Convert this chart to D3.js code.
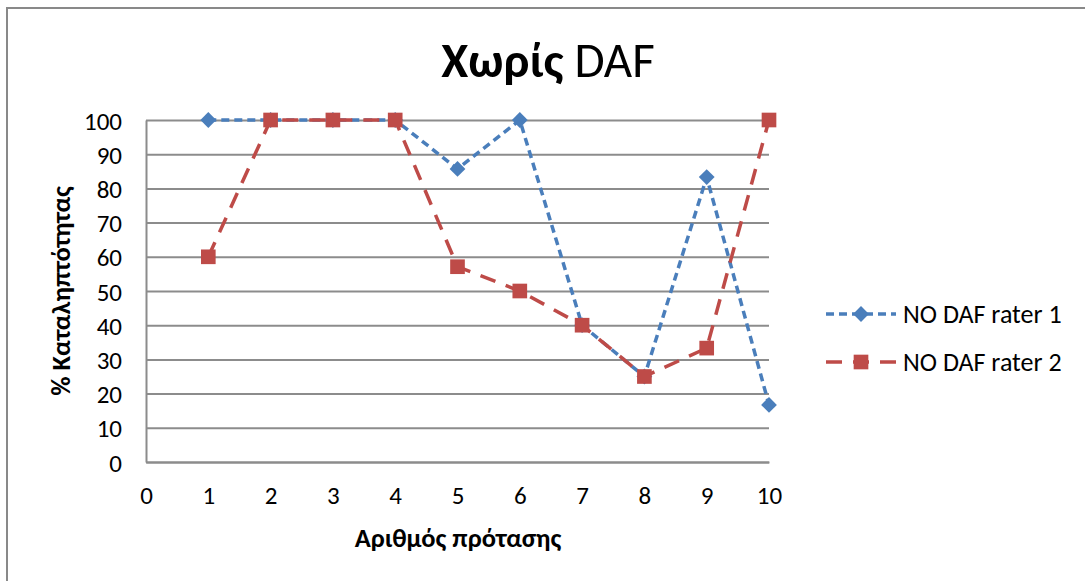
<!DOCTYPE html>
<html>
<head>
<meta charset="utf-8">
<script src="https://cdn.jsdelivr.net/npm/d3@7"></script>
<style>
  html, body { margin: 0; padding: 0; background: #fff; }
  svg { display: block; }
  text { font-family: Carlito, "Liberation Sans Narrow", "Open Sans", sans-serif; fill: #000; }
</style>
</head>
<body>
<svg id="chart" width="1085" height="581"></svg>
<script>
// Sentence number (x) and intelligibility % per rater
const sentences = [1, 2, 3, 4, 5, 6, 7, 8, 9, 10];
const rater1 = [100, 100, 100, 100, 85.7, 100, 40, 25, 83.3, 16.7];
const rater2 = [60, 100, 100, 100, 57.1, 50, 40, 25, 33.3, 100];
const seriesNames = ["NO DAF rater 1", "NO DAF rater 2"];
const xTicks = [0, 1, 2, 3, 4, 5, 6, 7, 8, 9, 10];
const yTicks = [0, 10, 20, 30, 40, 50, 60, 70, 80, 90, 100];

const svg = d3.select("#chart");
const W = 1085, H = 581;
const plot = { left: 146, right: 769, top: 120, bottom: 462 };

// Outer chart frame
svg.append("rect")
  .attr("x", 7).attr("y", 8)
  .attr("width", W + 20).attr("height", H + 20)
  .attr("fill", "#fff").attr("stroke", "#898989").attr("stroke-width", 2);

const x = d3.scaleLinear().domain([0, 10]).range([plot.left, plot.right]);
const y = d3.scaleLinear().domain([0, 100]).range([plot.bottom, plot.top]);

// Horizontal gridlines
svg.append("g")
  .attr("transform", `translate(${plot.left},0)`)
  .call(d3.axisLeft(y).tickValues(yTicks).tickSize(-(plot.right - plot.left)).tickFormat(""))
  .call(g => g.select(".domain").remove())
  .call(g => g.selectAll("line").attr("stroke", "#8c8c8c").attr("stroke-width", 2));

// Y axis
svg.append("g")
  .attr("transform", `translate(${plot.left},0)`)
  .call(d3.axisLeft(y).tickValues(yTicks).tickSize(0).tickPadding(24))
  .call(g => g.select(".domain").attr("stroke", "#8c8c8c").attr("stroke-width", 2))
  .call(g => g.selectAll("text").attr("font-size", 25).attr("dy", "0.36em")
    .style("font-family", "Carlito, 'Liberation Sans Narrow', sans-serif"));

// X axis
svg.append("g")
  .attr("transform", `translate(0,${plot.bottom})`)
  .call(d3.axisBottom(x).tickValues(xTicks).tickSize(0).tickPadding(24))
  .call(g => g.select(".domain").attr("stroke", "#8c8c8c").attr("stroke-width", 2))
  .call(g => g.selectAll("text").attr("font-size", 25)
    .style("font-family", "Carlito, 'Liberation Sans Narrow', sans-serif"));

// Title
const title = svg.append("text")
  .attr("x", 548).attr("y", 77)
  .attr("text-anchor", "middle")
  .attr("font-size", 49);
title.append("tspan").attr("font-weight", "bold").text("Χωρίς");
title.append("tspan").text(" DAF");

// Axis titles
svg.append("text")
  .attr("transform", "translate(70,291) rotate(-90)")
  .attr("text-anchor", "middle")
  .attr("font-size", 26.5).attr("font-weight", "bold")
  .text("% Καταληπτότητας");

svg.append("text")
  .attr("x", 458).attr("y", 547)
  .attr("text-anchor", "middle")
  .attr("font-size", 26.5).attr("font-weight", "bold")
  .text("Αριθμός πρότασης");

const styles = [
  { color: "#4a7ebb", dash: "8,5", marker: d3.symbolSquare, size: 125, rotate: 45 },
  { color: "#be4b48", dash: "16,11", marker: d3.symbolSquare, size: 215, rotate: 0 }
];
const data = [rater1, rater2];

const line = d3.line().x(d => x(d[0])).y(d => y(d[1]));

data.forEach((vals, i) => {
  const pts = sentences.map((s, k) => [s, vals[k]]);
  const st = styles[i];
  svg.append("path")
    .datum(pts)
    .attr("d", line)
    .attr("fill", "none")
    .attr("stroke", st.color)
    .attr("stroke-width", 3.5)
    .attr("stroke-dasharray", st.dash);
  svg.append("g").selectAll("path")
    .data(pts).join("path")
    .attr("transform", d => `translate(${x(d[0])},${y(d[1])}) rotate(${st.rotate})`)
    .attr("d", d3.symbol().type(st.marker).size(st.size))
    .attr("fill", st.color);
});

// Legend
const legend = svg.append("g");
seriesNames.forEach((name, i) => {
  const st = styles[i];
  const ly = 314 + i * 48;
  legend.append("line")
    .attr("x1", 826).attr("x2", 896).attr("y1", ly).attr("y2", ly)
    .attr("stroke", st.color).attr("stroke-width", 3.5)
    .attr("stroke-dasharray", st.dash);
  legend.append("path")
    .attr("transform", `translate(861,${ly}) rotate(${st.rotate})`)
    .attr("d", d3.symbol().type(st.marker).size(st.size))
    .attr("fill", st.color);
  legend.append("text")
    .attr("x", 903).attr("y", ly).attr("dy", "0.36em")
    .attr("font-size", 26)
    .text(name);
});
</script>
</body>
</html>
